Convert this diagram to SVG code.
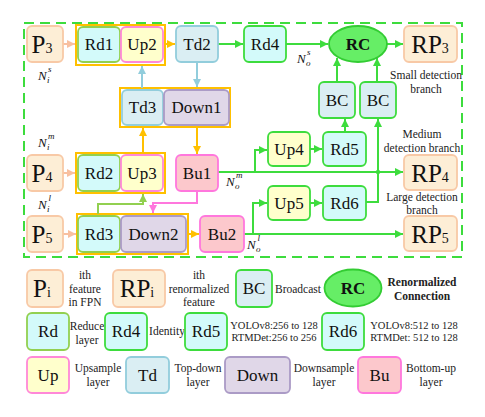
<svg xmlns="http://www.w3.org/2000/svg" width="485" height="417" viewBox="0 0 485 417">
<style>
text{font-family:"Liberation Serif","Times New Roman",serif;fill:#111}
.b{stroke-width:1.8}
.lbl{font-size:17px;text-anchor:middle}
.big{font-size:25px;text-anchor:middle}
.sm{font-size:11.5px;text-anchor:middle;fill:#222}
.xs{font-size:10.5px;text-anchor:middle;fill:#222}
.bold{font-weight:bold}
.nl{font-size:13px;font-style:italic}
.ns{font-size:9px;font-style:italic}
.p{fill:#fdeed6;stroke:#f8c9a6}
.rd{fill:#d3fafa;stroke:#92d050}
.rdg{fill:#d3fafa;stroke:#3ddc3d}
.up{fill:#ffffcc;stroke:#ff88d8}
.upg{fill:#ffffcc;stroke:#3ddc3d}
.td{fill:#daeef3;stroke:#92cddc}
.bc{fill:#daeef3;stroke:#3ddc3d}
.dn{fill:#e0d7e8;stroke:#ab9bc6}
.bu{fill:#fcc8cc;stroke:#ff77dd}
.rc{fill:#66ee66;stroke:#33cc33}
.grp{fill:none;stroke:#ffc000;stroke-width:2}
.c{fill:none;stroke-width:2}
.cg{stroke:#3ddc3d}
.co{stroke:#ffc000}
.cb{stroke:#92cddc}
.cp{stroke:#f8c0a0}
.cl{stroke:#92d050}
.ck{stroke:#ff77dd}
</style>
<defs>
<marker id="ag" markerWidth="8" markerHeight="8" refX="8" refY="4" orient="auto" markerUnits="userSpaceOnUse"><path d="M0,0L8,4L0,8z" fill="#3ddc3d"/></marker>
<marker id="ao" markerWidth="8" markerHeight="8" refX="8" refY="4" orient="auto" markerUnits="userSpaceOnUse"><path d="M0,0L8,4L0,8z" fill="#ffc000"/></marker>
<marker id="ab" markerWidth="8" markerHeight="8" refX="8" refY="4" orient="auto" markerUnits="userSpaceOnUse"><path d="M0,0L8,4L0,8z" fill="#92cddc"/></marker>
<marker id="ap" markerWidth="8" markerHeight="8" refX="8" refY="4" orient="auto" markerUnits="userSpaceOnUse"><path d="M0,0L8,4L0,8z" fill="#f8c0a0"/></marker>
<marker id="al" markerWidth="8" markerHeight="8" refX="8" refY="4" orient="auto" markerUnits="userSpaceOnUse"><path d="M0,0L8,4L0,8z" fill="#92d050"/></marker>
<marker id="ak" markerWidth="8" markerHeight="8" refX="8" refY="4" orient="auto" markerUnits="userSpaceOnUse"><path d="M0,0L8,4L0,8z" fill="#ff77dd"/></marker>
</defs>
<rect x="24" y="23" width="438" height="234" fill="none" stroke="#3ddc3d" stroke-width="2" stroke-dasharray="10 6"/>

<!-- group boxes -->
<rect class="grp" x="76" y="25" width="89" height="40"/>
<rect class="grp" x="120" y="88" width="110" height="39"/>
<rect class="grp" x="76" y="153" width="89" height="40"/>
<rect class="grp" x="77" y="214" width="111" height="40"/>

<g id="connectors">
<path class="c cp" d="M63,44H75" marker-end="url(#ap)"/>
<path class="c co" d="M165,44H175" marker-end="url(#ao)"/>
<path class="c cg" d="M218,44H243" marker-end="url(#ag)"/>
<path class="c cg" d="M286,44H328" marker-end="url(#ag)"/>
<path class="c cg" d="M387,44H403" marker-end="url(#ag)"/>
<path class="c cg" d="M337,82V58" marker-end="url(#ag)"/>
<path class="c cg" d="M377,82V58" marker-end="url(#ag)"/>
<path class="c cb" d="M142,88V66" marker-end="url(#ab)"/>
<path class="c cb" d="M197,62V87" marker-end="url(#ab)"/>
<path class="c co" d="M143,153V128" marker-end="url(#ao)"/>
<path class="c co" d="M197,127V154" marker-end="url(#ao)"/>
<path class="c cp" d="M63,173H75" marker-end="url(#ap)"/>
<path class="c cg" d="M218,172H403" marker-end="url(#ag)"/>
<path class="c cg" d="M255,172V150H267" marker-end="url(#ag)"/>
<path class="c cg" d="M310,149H322" marker-end="url(#ag)"/>
<path class="c cg" d="M345,132V119" marker-end="url(#ag)"/>
<path class="c cg" d="M366,202H378V119" marker-end="url(#ag)"/>
<circle cx="378" cy="172" r="2.2" fill="#3ddc3d"/>
<path class="c cp" d="M63,234H76" marker-end="url(#ap)"/>
<path class="c cl" d="M98,214V204H143V194" marker-end="url(#al)"/>
<path class="c ck" d="M197,191V203H153V213" marker-end="url(#ak)"/>
<path class="c co" d="M188,234H199" marker-end="url(#ao)"/>
<path class="c cg" d="M244,234H403" marker-end="url(#ag)"/>
<path class="c cg" d="M253,234V203H267" marker-end="url(#ag)"/>
<path class="c cg" d="M310,203H322" marker-end="url(#ag)"/>
</g>

<!-- top row -->
<g id="P3"><rect class="p b" x="27" y="26" width="36" height="36" rx="5"/><text class="big" x="42" y="53">P<tspan font-size="14">3</tspan></text></g>
<g id="Rd1"><rect class="rd b" x="78" y="27" width="42" height="35" rx="5"/><text class="lbl" x="99" y="50">Rd1</text></g>
<g id="Up2"><rect class="up b" x="121" y="27" width="42" height="35" rx="5"/><text class="lbl" x="142" y="50">Up2</text></g>
<g id="Td2"><rect class="td b" x="176" y="26" width="42" height="36" rx="5"/><text class="lbl" x="197" y="50">Td2</text></g>
<g id="Rd4"><rect class="rdg b" x="244" y="26" width="42" height="36" rx="5"/><text class="lbl" x="265" y="50">Rd4</text></g>
<g id="RC"><ellipse class="rc b" cx="358" cy="44" rx="29" ry="18"/><text class="lbl bold" x="358" y="50">RC</text></g>
<g id="RP3"><rect class="p b" x="404" y="26" width="53" height="36" rx="5"/><text class="big" x="430" y="53">RP<tspan font-size="14">3</tspan></text></g>
<g id="BC1"><rect class="bc b" x="319" y="82" width="36" height="36" rx="5"/><text class="lbl" x="337" y="106">BC</text></g>
<g id="BC2"><rect class="bc b" x="360" y="82" width="36" height="36" rx="5"/><text class="lbl" x="378" y="106">BC</text></g>
<g id="Td3"><rect class="td b" x="122" y="90" width="41" height="35" rx="5"/><text class="lbl" x="142.5" y="113">Td3</text></g>
<g id="Down1"><rect class="dn b" x="164" y="90" width="65" height="35" rx="5"/><text class="lbl" x="196.5" y="113">Down1</text></g>

<!-- middle row -->
<g id="P4"><rect class="p b" x="27" y="155" width="36" height="36" rx="5"/><text class="big" x="42" y="182">P<tspan font-size="14">4</tspan></text></g>
<g id="Rd2"><rect class="rd b" x="78" y="155" width="42" height="36" rx="5"/><text class="lbl" x="99" y="179">Rd2</text></g>
<g id="Up3"><rect class="up b" x="121" y="155" width="42" height="36" rx="5"/><text class="lbl" x="142" y="179">Up3</text></g>
<g id="Bu1"><rect class="bu b" x="176" y="155" width="42" height="36" rx="5"/><text class="lbl" x="197" y="179">Bu1</text></g>
<g id="Up4"><rect class="upg b" x="268" y="132" width="42" height="34" rx="5"/><text class="lbl" x="289" y="155">Up4</text></g>
<g id="Rd5"><rect class="rdg b" x="323" y="132" width="43" height="34" rx="5"/><text class="lbl" x="344.5" y="155">Rd5</text></g>
<g id="RP4"><rect class="p b" x="404" y="155" width="53" height="35" rx="5"/><text class="big" x="430" y="182">RP<tspan font-size="14">4</tspan></text></g>

<!-- bottom row -->
<g id="P5"><rect class="p b" x="27" y="216" width="36" height="36" rx="5"/><text class="big" x="42" y="243">P<tspan font-size="14">5</tspan></text></g>
<g id="Rd3"><rect class="rd b" x="78" y="216" width="42" height="36" rx="5"/><text class="lbl" x="99" y="240">Rd3</text></g>
<g id="Down2"><rect class="dn b" x="121" y="216" width="65" height="36" rx="5"/><text class="lbl" x="153.5" y="240">Down2</text></g>
<g id="Bu2"><rect class="bu b" x="200" y="216" width="44" height="36" rx="5"/><text class="lbl" x="222" y="240">Bu2</text></g>
<g id="Up5"><rect class="upg b" x="268" y="186" width="42" height="34" rx="5"/><text class="lbl" x="289" y="209">Up5</text></g>
<g id="Rd6"><rect class="rdg b" x="323" y="186" width="43" height="34" rx="5"/><text class="lbl" x="344.5" y="209">Rd6</text></g>
<g id="RP5"><rect class="p b" x="404" y="216" width="53" height="35" rx="5"/><text class="big" x="430" y="243">RP<tspan font-size="14">5</tspan></text></g>

<!-- N labels -->
<g id="labels">
<text class="nl" x="38" y="80">N</text><text class="ns" x="47" y="83">i</text><text class="ns" x="48" y="72">s</text>
<text class="nl" x="38" y="147">N</text><text class="ns" x="47" y="150">i</text><text class="ns" x="48" y="139" font-style="normal">m</text>
<text class="nl" x="38" y="209">N</text><text class="ns" x="47" y="212">i</text><text class="ns" x="48.5" y="201">l</text>
<text class="nl" x="297" y="63">N</text><text class="ns" x="306" y="66">o</text><text class="ns" x="307" y="55">s</text>
<text class="nl" x="226" y="186">N</text><text class="ns" x="235" y="189">o</text><text class="ns" x="236" y="178" font-style="normal">m</text>
<text class="nl" x="247" y="249">N</text><text class="ns" x="256" y="252">o</text><text class="ns" x="257.5" y="241">l</text>
<text class="sm" x="426" y="79">Small detection</text><text class="sm" x="426" y="93">branch</text>
<text class="sm" x="422" y="138">Medium</text><text class="sm" x="422" y="152">detection branch</text>
<text class="sm" x="422" y="201">Large detection</text><text class="sm" x="422" y="214">branch</text>
</g>

<!-- legend -->
<g id="legend">
<g id="L-Pi"><rect class="p b" x="27" y="270" width="36" height="37" rx="5"/><text class="big" x="42" y="297">P<tspan font-size="14">i</tspan></text></g>
<text class="sm" x="85" y="279">ith</text><text class="sm" x="85" y="292.5">feature</text><text class="sm" x="85" y="306">in FPN</text>
<g id="L-RPi"><rect class="p b" x="113" y="270" width="52" height="37" rx="5"/><text class="big" x="137" y="297">RP<tspan font-size="14">i</tspan></text></g>
<text class="sm" x="199" y="279">ith</text><text class="sm" x="199" y="292.5">renormalized</text><text class="sm" x="199" y="306">feature</text>
<g id="L-BC"><rect class="bc b" x="236" y="270" width="36" height="37" rx="5"/><text class="lbl" x="254" y="294">BC</text></g>
<text class="sm" x="298" y="293">Broadcast</text>
<g id="L-RC"><ellipse class="rc b" cx="353" cy="288" rx="28.5" ry="18.5"/><text class="lbl bold" x="353" y="294">RC</text></g>
<text class="sm bold" x="422" y="286">Renormalized</text><text class="sm bold" x="422" y="300">Connection</text>

<g id="L-Rd"><rect class="rd b" x="27" y="313" width="42" height="37" rx="5"/><text class="lbl" x="48" y="337">Rd</text></g>
<text class="sm" x="87" y="330">Reduce</text><text class="sm" x="87" y="344">layer</text>
<g id="L-Rd4"><rect class="rdg b" x="105" y="313" width="42" height="37" rx="5"/><text class="lbl" x="126" y="337">Rd4</text></g>
<text class="sm" x="167" y="335">Identity</text>
<g id="L-Rd5"><rect class="rdg b" x="185" y="313" width="42" height="37" rx="5"/><text class="lbl" x="206" y="337">Rd5</text></g>
<text class="xs" x="274" y="329">YOLOv8:256 to 128</text><text class="xs" x="274" y="341">RTMDet:256 to 256</text>
<g id="L-Rd6"><rect class="rdg b" x="322" y="313" width="42" height="37" rx="5"/><text class="lbl" x="343" y="337">Rd6</text></g>
<text class="xs" x="414" y="329">YOLOv8:512 to 128</text><text class="xs" x="414" y="341">RTMDet: 512 to 128</text>

<g id="L-Up"><rect class="up b" x="27" y="357" width="42" height="36" rx="5"/><text class="lbl" x="48" y="381">Up</text></g>
<text class="sm" x="98" y="372">Upsample</text><text class="sm" x="98" y="386">layer</text>
<g id="L-Td"><rect class="td b" x="126" y="357" width="43" height="36" rx="5"/><text class="lbl" x="147.5" y="381">Td</text></g>
<text class="sm" x="198" y="372">Top-down</text><text class="sm" x="198" y="386">layer</text>
<g id="L-Down"><rect class="dn b" x="225" y="357" width="65" height="36" rx="5"/><text class="lbl" x="257.5" y="381">Down</text></g>
<text class="sm" x="324" y="372">Downsample</text><text class="sm" x="324" y="386">layer</text>
<g id="L-Bu"><rect class="bu b" x="358" y="357" width="43" height="36" rx="5"/><text class="lbl" x="379.5" y="381">Bu</text></g>
<text class="sm" x="431" y="372">Bottom-up</text><text class="sm" x="431" y="386">layer</text>
</g>
</svg>
